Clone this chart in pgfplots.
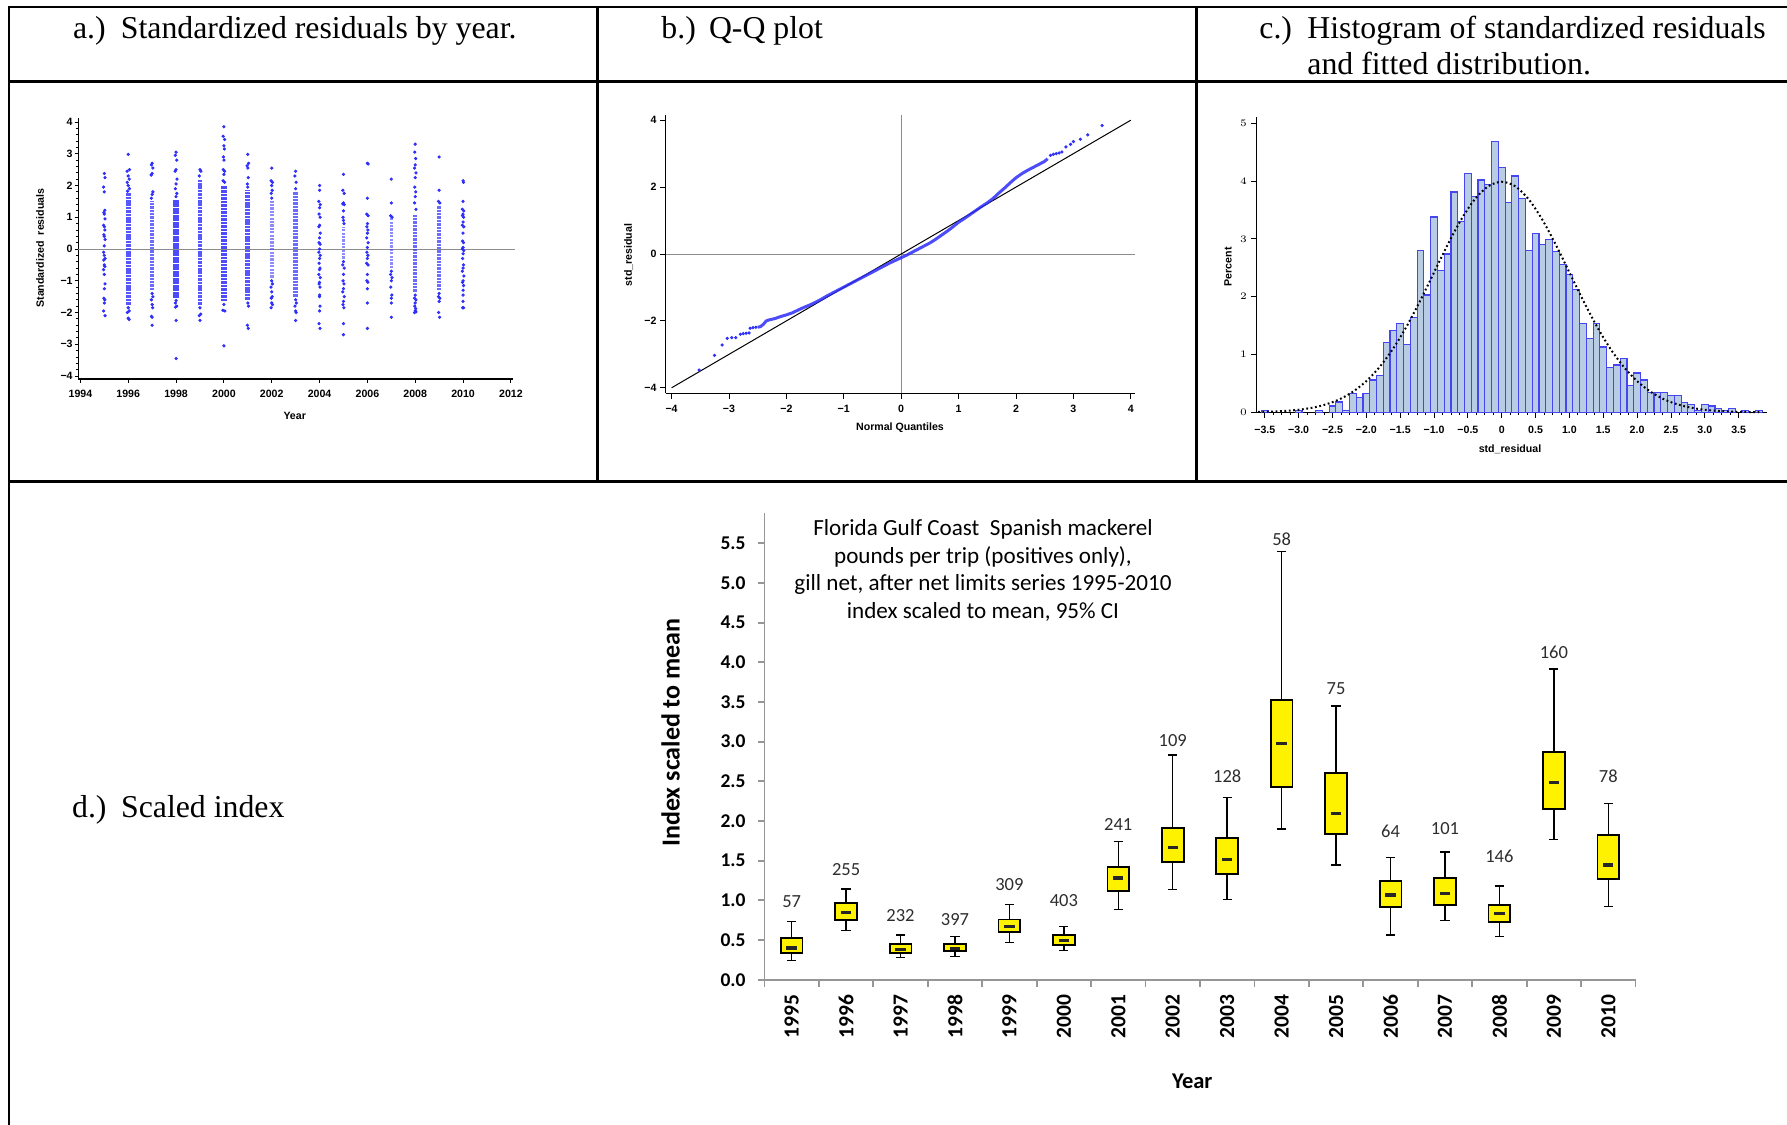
\documentclass[border=0pt]{standalone}
\usepackage{fontspec}
\setmainfont{Liberation Serif}
\newfontfamily\sasf{Liberation Sans}
\newfontfamily\calf{Carlito}
\usepackage{pgfplots}
\pgfplotsset{compat=1.18}
\usepgfplotslibrary{statistics}
\definecolor{sasblue}{RGB}{45,45,250}
\definecolor{histfill}{RGB}{184,204,228}
\definecolor{histline}{RGB}{70,70,240}
\definecolor{refgray}{RGB}{140,140,140}
\definecolor{xlgray}{RGB}{150,150,150}
\definecolor{lbl}{RGB}{45,45,45}
\definecolor{medc}{RGB}{38,38,38}
\newcommand\sasfont{\sasf\bfseries\fontsize{5.3bp}{6.3bp}\selectfont}
\newcommand\titlefont{\fontsize{15.9bp}{19bp}\selectfont}
\pgfplotsset{
  sas/.style={scale only axis, anchor=south west, axis lines*=left, tick align=outside,
    major tick length=2.2bp, minor tick length=1.2bp,
    tick style={black, line width=0.45bp}, axis line style={black, line width=0.55bp},
    tick label style={font=\sasfont, inner sep=0.8bp}, clip=false},
  sdot/.style={color=sasblue, only marks, mark=*, mark size=0.6bp, mark options={draw=none, fill=sasblue, fill opacity=0.9}},
}
\begin{document}
\begin{tikzpicture}
\useasboundingbox (0,0) rectangle (893.5bp,-562.5bp);
% table rules
\draw[line width=1.15bp] (4bp,-3.35bp) -- (893.5bp,-3.35bp);
\draw[line width=1.15bp] (4.6bp,-3.35bp) -- (4.6bp,-562.5bp);
\draw[line width=1.15bp] (4.6bp,-40.7bp) -- (893.5bp,-40.7bp);
\draw[line width=1.15bp] (4.6bp,-240.8bp) -- (893.5bp,-240.8bp);
\draw[line width=1.15bp] (298.7bp,-3.35bp) -- (298.7bp,-240.8bp);
\draw[line width=1.15bp] (598.3bp,-3.35bp) -- (598.3bp,-240.8bp);
% titles
\node[anchor=base west, inner sep=0, font=\titlefont] at (36.35bp,-19.2bp) {a.)};
\node[anchor=base west, inner sep=0, font=\titlefont] at (60.25bp,-19.2bp) {Standardized residuals by year.};
\node[anchor=base west, inner sep=0, font=\titlefont] at (330.5bp,-19.2bp) {b.)};
\node[anchor=base west, inner sep=0, font=\titlefont] at (354.3bp,-19.2bp) {Q-Q plot};
\node[anchor=base west, inner sep=0, font=\titlefont] at (629.5bp,-19.2bp) {c.)};
\node[anchor=base west, inner sep=0, font=\titlefont] at (653.5bp,-19.2bp) {Histogram of standardized residuals};
\node[anchor=base west, inner sep=0, font=\titlefont] at (653.5bp,-37.4bp) {and fitted distribution.};
\node[anchor=base west, inner sep=0, font=\titlefont] at (35.85bp,-408.6bp) {d.)};
\node[anchor=base west, inner sep=0, font=\titlefont] at (60.35bp,-408.6bp) {Scaled index};

% ---------- panel a ----------
\begin{axis}[sas, at={(39.2bp,-189.5bp)}, width=217.2bp, height=130.5bp,
  xmin=1993.916, xmax=2012.08, ymin=-4.094, ymax=4.126,
  major tick length=1.9bp,
  xtick={1994,1996,...,2012}, xticklabels={1994,1996,1998,2000,2002,2004,2006,2008,2010,2012},
  ytick={-4,...,4}, yticklabels={−4,−3,−2,−1,0,1,2,3,4},
  minor x tick num=1, minor y tick num=4,
  xticklabel style={yshift=-2.6bp}, unbounded coords=jump]
\addplot[refgray, line width=0.5bp] coordinates {(1993.916,0) (2012.16,0)};
\addplot[sasblue, opacity=0.85, line width=2.9bp, dash pattern=on 1.4bp off 0.35bp] coordinates {(1998,-1.55) (1998,1.55)};
\addplot[sasblue, opacity=0.85, line width=2.7bp, dash pattern=on 1.4bp off 0.35bp] coordinates {(2000,-1.65) (2000,2.0)};
\addplot[sasblue, opacity=0.8, line width=2.4bp, dash pattern=on 1.3bp off 0.4bp] coordinates {(1996,-1.75) (1996,1.75) (1996,nan) (1999,-1.75) (1999,2.2) (1999,nan) (2001,-1.6) (2001,1.85)};
\addplot[sasblue, opacity=0.7, line width=2.2bp, dash pattern=on 1.2bp off 0.5bp] coordinates {(1997,-1.3) (1997,1.5) (1997,nan) (2003,-1.5) (2003,1.8) (2003,nan) (2008,-1.35) (2008,1.1) (2008,nan) (2009,-1.3) (2009,1.35)};
\addplot[sasblue, opacity=0.55, line width=1.8bp, dash pattern=on 1.1bp off 0.6bp] coordinates {(2002,-0.9) (2002,1.5) (2002,nan) (2005,-0.3) (2005,0.7) (2005,nan) (2007,-0.6) (2007,1.0)};
\addplot[sdot] coordinates {
(1995,2.38)(1995.03,2.25)(1994.97,1.95)(1995,1.8)(1995.02,1.22)(1994.98,1.15)(1995,1.1)(1995.03,0.95)(1994.97,0.75)(1995,0.7)(1995.02,0.6)(1994.98,0.45)(1995,0.4)(1995.03,0.3)(1995,0.1)(1994.97,-0.1)(1995,-0.2)(1995.03,-0.3)(1994.98,-0.35)(1995,-0.5)(1995.02,-0.55)(1994.97,-0.65)(1995,-0.8)(1995.03,-1.1)(1995,-1.25)(1994.98,-1.55)(1995.02,-1.6)(1995,-1.7)(1994.97,-1.95)(1995.03,-2.1)
(1996,2.98)(1996.05,2.5)(1995.95,2.45)(1996,2.3)(1996.04,2.2)(1995.96,2.1)(1996,2.0)(1996.05,1.9)(1995.97,1.82)(1996,-1.85)(1996.04,-1.95)(1995.96,-2.0)(1996,-2.18)(1996.04,-2.22)
(1997,2.7)(1996.97,2.65)(1997.03,2.55)(1997,2.38)(1996.96,2.33)(1997.03,1.8)(1997,1.72)(1996.97,1.6)(1997,-1.4)(1997.03,-1.5)(1996.97,-1.6)(1997,-1.75)(1997.02,-1.85)(1997,-2.15)(1996.97,-2.12)(1997,-2.4)
(1998,3.05)(1997.97,2.95)(1998.03,2.8)(1998,2.5)(1997.96,2.45)(1998.04,2.2)(1998,2.05)(1997.97,1.9)(1998.03,1.75)(1998,1.65)(1998,-1.62)(1997.97,-1.7)(1998.03,-1.8)(1997.98,-1.83)(1998,-2.25)(1998,-3.45)
(1999,2.5)(1999.04,2.45)(1998.97,2.3)(1999,-1.85)(1999.03,-2.05)(1998.97,-2.1)(1999,-2.25)
(2000,3.85)(1999.97,3.55)(2000.03,3.45)(2000,3.25)(2000.02,3.15)(1999.98,2.9)(2000,2.8)(1999.97,2.5)(2000.03,2.45)(2000,2.35)(1999.97,2.15)(2000.03,2.1)(2000,-1.75)(1999.96,-1.93)(2000.04,-1.95)(2000,-3.05)
(2001,2.98)(2001.03,2.7)(2000.97,2.62)(2001,2.55)(2001.02,2.25)(2000.98,2.05)(2001,1.95)(2001,-1.7)(2001.03,-1.8)(2000.98,-2.4)(2001.02,-2.5)
(2002,2.55)(2001.97,2.15)(2002.03,2.1)(2002,2.0)(2002.02,1.85)(2001.98,1.75)(2002,1.6)(2002,-1.0)(2002.03,-1.1)(2001.97,-1.2)(2002,-1.35)(2002.02,-1.5)(2001.98,-1.55)(2002,-1.7)(2002.03,-1.75)(2001.97,-1.85)
(2003,2.45)(2002.97,2.3)(2003.02,2.1)(2003,1.9)(2003,-1.6)(2003.03,-1.7)(2002.97,-1.8)(2003,-1.95)(2003.02,-2.0)(2003,-2.25)
(2004,2.0)(2004,1.85)(2003.97,1.5)(2004.03,1.4)(2004,1.3)(2003.98,1.1)(2004.02,1.0)(2004,0.75)(2003.97,0.7)(2004.03,0.5)(2004,0.35)(2003.98,0.2)(2004.02,0.15)(2004,0.0)(2003.97,-0.1)(2004.03,-0.2)(2004,-0.3)(2003.98,-0.45)(2004.02,-0.6)(2004,-0.65)(2003.97,-0.8)(2004.03,-0.9)(2004,-1.05)(2003.98,-1.1)(2004.02,-1.2)(2004,-1.45)(2004,-1.5)(2004.02,-1.8)(2004,-1.95)(2003.98,-2.35)(2004.02,-2.5)
(2005,2.35)(2004.97,1.85)(2005.03,1.75)(2005,1.45)(2004.97,1.42)(2005.03,1.4)(2005,1.2)(2004.98,1.0)(2005,0.9)(2005.02,0.8)(2005,-0.4)(2004.97,-0.5)(2005.03,-0.6)(2005,-0.8)(2004.98,-1.0)(2005.02,-1.1)(2005,-1.25)(2004.97,-1.35)(2005.03,-1.5)(2005,-1.65)(2004.98,-1.75)(2005.02,-1.85)(2005,-2.35)(2005,-2.7)
(2006,2.7)(2006.03,2.68)(2006,1.6)(2005.97,1.1)(2006.03,1.05)(2006,0.8)(2005.98,0.7)(2006.02,0.6)(2006,0.5)(2005.97,0.35)(2006.03,0.2)(2006,0.05)(2005.98,-0.1)(2006.02,-0.2)(2006,-0.3)(2005.97,-0.45)(2006.03,-0.5)(2006,-0.8)(2005.98,-1.0)(2006.02,-1.05)(2006,-1.25)(2006,-1.7)(2006,-2.5)
(2007,2.2)(2007,1.45)(2006.97,1.05)(2007.03,1.0)(2007,-0.7)(2006.97,-0.8)(2007.03,-0.9)(2007,-1.0)(2006.98,-1.2)(2007.02,-1.45)(2007,-1.55)(2007,-1.7)(2007,-2.15)
(2008,3.3)(2007.98,3.05)(2008.02,2.85)(2008,2.65)(2007.97,2.55)(2008.03,2.4)(2008,2.25)(2007.98,1.95)(2008.02,1.8)(2008,1.65)(2007.97,1.45)(2008.03,1.25)(2008,-1.45)(2007.97,-1.55)(2008.03,-1.6)(2008,-1.7)(2007.98,-1.8)(2008.02,-1.88)(2008,-1.95)(2007.97,-2.0)(2008.03,-1.98)
(2009,2.9)(2009,1.85)(2008.97,1.5)(2009.03,1.45)(2009,-1.4)(2008.97,-1.5)(2009.03,-1.55)(2009,-1.65)(2008.98,-2.0)(2009.02,-2.15)
(2010,2.15)(2010.02,2.1)(2010,1.5)(2009.97,1.25)(2010.03,1.2)(2010,1.1)(2009.98,1.05)(2010.02,1.0)(2010,0.85)(2009.97,0.75)(2010.03,0.7)(2010,0.5)(2009.98,0.25)(2010.02,0.2)(2010,0.05)(2009.97,0.0)(2010.03,-0.05)(2010,-0.15)(2009.98,-0.3)(2010.02,-0.5)(2010,-0.6)(2009.97,-0.7)(2010.03,-0.85)(2010,-1.0)(2009.98,-1.05)(2010.02,-1.15)(2010,-1.3)(2010,-1.45)(2010,-1.65)(2009.98,-1.85)(2010.02,-1.85)
};
\end{axis}
\node[rotate=90, font=\sasfont] at (20.1bp,-124bp) {Standardized\ \ residuals};
\node[font=\sasfont] at (147.35bp,-207.7bp) {Year};

% ---------- panel b ----------
\begin{axis}[sas, at={(332.9bp,-196.65bp)}, width=234.8bp, height=139.15bp,
  xmin=-4.1, xmax=4.08, ymin=-4.164, ymax=4.155, major tick length=2.7bp,
  xtick={-4,...,4}, xticklabels={−4,−3,−2,−1,0,1,2,3,4},
  ytick={-4,-2,0,2,4}, yticklabels={−4,−2,0,2,4},
  xticklabel style={yshift=-2.2bp}, yticklabel style={xshift=-1bp}]
\addplot[refgray, line width=0.5bp] coordinates {(0,-4.164) (0,4.155)};
\addplot[refgray, line width=0.5bp] coordinates {(-4.1,0) (4.08,0)};
\addplot[black, line width=0.5bp] coordinates {(-4,-4) (4,4)};
\addplot[sasblue, opacity=0.85, line width=1.5bp] coordinates {
(-2.5,-2.19)(-2.45,-2.17)(-2.4,-2.1)(-2.35,-2.0)(-2.3,-1.97)(-2.2,-1.93)(-2.1,-1.87)(-2.0,-1.82)(-1.9,-1.76)(-1.8,-1.68)(-1.7,-1.6)(-1.6,-1.53)(-1.5,-1.45)(-1.4,-1.36)(-1.3,-1.26)(-1.2,-1.17)(-1.1,-1.08)(-1.0,-0.99)(-0.9,-0.9)(-0.8,-0.81)(-0.7,-0.72)(-0.6,-0.63)(-0.5,-0.54)(-0.4,-0.45)(-0.3,-0.36)(-0.2,-0.27)(-0.1,-0.19)(0,-0.11)(0.1,-0.03)(0.2,0.06)(0.3,0.15)(0.4,0.24)(0.5,0.33)(0.6,0.44)(0.7,0.56)(0.8,0.68)(0.9,0.81)(1.0,0.95)(1.1,1.06)(1.2,1.18)(1.3,1.3)(1.4,1.42)(1.5,1.53)(1.6,1.66)(1.7,1.82)(1.8,1.97)(1.9,2.13)(2.0,2.28)(2.1,2.4)(2.2,2.5)(2.3,2.59)(2.4,2.68)(2.5,2.77)(2.55,2.85)};
\addplot[sdot] coordinates {
(-3.52,-3.47)(-3.25,-3.03)(-3.12,-2.72)(-3.03,-2.52)(-2.95,-2.5)(-2.88,-2.5)(-2.8,-2.4)(-2.75,-2.38)(-2.7,-2.37)(-2.65,-2.36)(-2.63,-2.22)(-2.58,-2.2)(-2.53,-2.19)
(2.6,2.95)(2.65,2.98)(2.7,3.0)(2.75,3.02)(2.8,3.05)(2.87,3.2)(2.95,3.28)(3.0,3.36)(3.12,3.43)(3.25,3.56)(3.5,3.84)};
\end{axis}
\node[rotate=90, font=\sasfont] at (314.35bp,-127.5bp) {std\_residual};
\node[font=\sasfont] at (450bp,-213.85bp) {Normal Quantiles};

% ---------- panel c ----------
\begin{axis}[sas, at={(628.1bp,-206.15bp)}, width=255.4bp, height=147.5bp,
  xmin=-3.627, xmax=3.919, ymin=0, ymax=5.104, major tick length=2.7bp,
  xtick={-3.5,-3,...,3.5}, xticklabels={−3.5,−3.0,−2.5,−2.0,−1.5,−1.0,−0.5,0,0.5,1.0,1.5,2.0,2.5,3.0,3.5},
  minor x tick num=3,
  ytick={0,...,5}, xticklabel style={yshift=-3.2bp}, yticklabel style={xshift=-1bp}]
\addplot[ybar, bar width=0.1, bar shift=0pt, fill=histfill, draw=histline, line width=0.6bp] coordinates {
(-3.5,0.03)(-3.0,0.03)(-2.7,0.03)(-2.5,0.11)(-2.4,0.18)(-2.3,0.03)(-2.2,0.32)(-2.1,0.25)(-2.0,0.32)(-1.9,0.56)(-1.8,0.64)(-1.7,1.21)(-1.6,1.41)(-1.5,1.53)(-1.4,1.18)(-1.3,1.64)(-1.2,2.80)(-1.1,2.03)(-1.0,3.38)(-0.9,2.45)(-0.8,2.74)(-0.7,3.81)(-0.6,3.30)(-0.5,4.13)(-0.4,3.74)(-0.3,4.02)(-0.2,3.94)(-0.1,4.69)(0.0,4.23)(0.1,3.63)(0.2,4.09)(0.3,3.70)(0.4,2.80)(0.5,3.09)(0.6,2.91)(0.7,2.99)(0.8,2.78)(0.9,2.56)(1.0,2.39)(1.1,2.13)(1.2,1.53)(1.3,1.28)(1.4,1.53)(1.5,1.13)(1.6,0.78)(1.7,0.82)(1.8,0.93)(1.9,0.46)(2.0,0.68)(2.1,0.56)(2.2,0.34)(2.3,0.34)(2.4,0.34)(2.5,0.29)(2.6,0.29)(2.7,0.17)(2.8,0.13)(2.9,0.03)(3.0,0.14)(3.1,0.11)(3.2,0.06)(3.3,0.03)(3.4,0.06)(3.6,0.03)(3.8,0.03)};
\addplot[black, smooth, line width=1bp, dash pattern=on 0.9bp off 1.3bp] coordinates {
(-3.6,0.006)(-3.4,0.012)(-3.2,0.024)(-3.0,0.044)(-2.8,0.079)(-2.6,0.136)(-2.4,0.224)(-2.2,0.355)(-2.0,0.540)(-1.8,0.790)(-1.6,1.109)(-1.4,1.497)(-1.2,1.942)(-1.0,2.420)(-0.8,2.897)(-0.6,3.332)(-0.4,3.683)(-0.2,3.910)(0,3.989)(0.2,3.910)(0.4,3.683)(0.6,3.332)(0.8,2.897)(1.0,2.420)(1.2,1.942)(1.4,1.497)(1.6,1.109)(1.8,0.790)(2.0,0.540)(2.2,0.355)(2.4,0.224)(2.6,0.136)(2.8,0.079)(3.0,0.044)(3.2,0.024)(3.4,0.012)(3.6,0.006)(3.85,0.003)};
\end{axis}
\node[rotate=90, font=\sasfont] at (614bp,-133.35bp) {Percent};
\node[font=\sasfont] at (755bp,-224.65bp) {std\_residual};

% ---------- panel d ----------
\begin{axis}[scale only axis, anchor=south west, at={(382.2bp,-489.85bp)}, width=435.55bp, height=233.5bp,
  xmin=-0.5, xmax=15.5, ymin=0, ymax=5.885, clip=false,
  axis lines*=left, axis line style={xlgray, line width=0.9bp},
  tick align=outside, major tick length=3.4bp, tick style={xlgray, line width=0.9bp},
  xtick={-0.5,0.5,...,15.5}, xticklabels={,,,,,,,,,,,,,,,,},
  extra x ticks={0,...,15},
  extra x tick labels={1995,1996,1997,1998,1999,2000,2001,2002,2003,2004,2005,2006,2007,2008,2009,2010},
  extra x tick style={tick style={draw=none}},
  xticklabel style={yshift=-2bp, rotate=90, anchor=east, font=\calf\bfseries\fontsize{10.75bp}{12bp}\selectfont, inner sep=2bp},
  ytick={0,0.5,...,5.5}, yticklabels={0.0,0.5,1.0,1.5,2.0,2.5,3.0,3.5,4.0,4.5,5.0,5.5},
  yticklabel style={font=\calf\bfseries\fontsize{9.75bp}{11bp}\selectfont, xshift=-2.5bp},
  boxplot/draw direction=y,
  boxplot/box extend=0.4, boxplot/whisker extend=0.17,
  boxplot/every box/.style={draw=black, fill=yellow, line width=0.9bp},
  boxplot/every whisker/.style={draw=black, line width=0.7bp},
  boxplot/every median/.style={draw=none}]
\addplot[black, boxplot prepared={draw position=0, lower whisker=0.24, lower quartile=0.341, median=0.399, upper quartile=0.529, upper whisker=0.731}] coordinates {};
\addplot[black, boxplot prepared={draw position=1, lower whisker=0.618, lower quartile=0.752, median=0.849, upper quartile=0.962, upper whisker=1.143}] coordinates {};
\addplot[black, boxplot prepared={draw position=2, lower whisker=0.278, lower quartile=0.341, median=0.378, upper quartile=0.454, upper whisker=0.563}] coordinates {};
\addplot[black, boxplot prepared={draw position=3, lower whisker=0.290, lower quartile=0.357, median=0.395, upper quartile=0.454, upper whisker=0.542}] coordinates {};
\addplot[black, boxplot prepared={draw position=4, lower whisker=0.471, lower quartile=0.597, median=0.669, upper quartile=0.760, upper whisker=0.950}] coordinates {};
\addplot[black, boxplot prepared={draw position=5, lower whisker=0.366, lower quartile=0.441, median=0.492, upper quartile=0.559, upper whisker=0.673}] coordinates {};
\addplot[black, boxplot prepared={draw position=6, lower whisker=0.887, lower quartile=1.118, median=1.282, upper quartile=1.424, upper whisker=1.739}] coordinates {};
\addplot[black, boxplot prepared={draw position=7, lower whisker=1.139, lower quartile=1.479, median=1.664, upper quartile=1.908, upper whisker=2.832}] coordinates {};
\addplot[black, boxplot prepared={draw position=8, lower whisker=1.013, lower quartile=1.336, median=1.517, upper quartile=1.782, upper whisker=2.294}] coordinates {};
\addplot[black, boxplot prepared={draw position=9, lower whisker=1.899, lower quartile=2.425, median=2.979, upper quartile=3.521, upper whisker=5.394}] coordinates {};
\addplot[black, boxplot prepared={draw position=10, lower whisker=1.445, lower quartile=1.832, median=2.097, upper quartile=2.601, upper whisker=3.449}] coordinates {};
\addplot[black, boxplot prepared={draw position=11, lower whisker=0.563, lower quartile=0.916, median=1.067, upper quartile=1.247, upper whisker=1.538}] coordinates {};
\addplot[black, boxplot prepared={draw position=12, lower whisker=0.744, lower quartile=0.941, median=1.088, upper quartile=1.285, upper whisker=1.609}] coordinates {};
\addplot[black, boxplot prepared={draw position=13, lower whisker=0.542, lower quartile=0.727, median=0.836, upper quartile=0.941, upper whisker=1.180}] coordinates {};
\addplot[black, boxplot prepared={draw position=14, lower whisker=1.769, lower quartile=2.147, median=2.487, upper quartile=2.874, upper whisker=3.916}] coordinates {};
\addplot[black, boxplot prepared={draw position=15, lower whisker=0.924, lower quartile=1.265, median=1.445, upper quartile=1.824, upper whisker=2.223}] coordinates {};
\addplot[only marks, mark=-, mark size=2.6bp, mark options={line width=1.6bp, draw=medc}] coordinates {
(0,0.399)(1,0.849)(2,0.378)(3,0.395)(4,0.669)(5,0.492)(6,1.282)(7,1.664)(8,1.517)(9,2.979)(10,2.097)(11,1.067)(12,1.088)(13,0.836)(14,2.487)(15,1.445)};
\addplot[only marks, mark=none, point meta=explicit symbolic, nodes near coords,
  nodes near coords style={anchor=center, inner sep=0, text=lbl, font=\calf\fontsize{9.25bp}{11bp}\selectfont}] coordinates {
(0,0.983)[57] (1,1.39)[255] (2,0.807)[232] (3,0.752)[397] (4,1.202)[309] (5,0.992)[403] (6,1.95)[241] (7,3.02)[109] (8,2.567)[128] (9,5.55)[58] (10,3.672)[75] (11,1.865)[64] (12,1.899)[101] (13,1.559)[146] (14,4.121)[160] (15,2.559)[78]};
\end{axis}
\begin{scope}[every node/.style={anchor=base, inner sep=0, font=\calf\fontsize{11.55bp}{14bp}\selectfont}]
\node at (491.5bp,-267.5bp) {Florida Gulf Coast\ \ Spanish mackerel};
\node at (491.5bp,-281.65bp) {pounds per trip (positives only),};
\node at (491.5bp,-295bp) {gill net, after net limits series 1995-2010};
\node at (491.5bp,-309.15bp) {index scaled to mean, 95\% CI};
\end{scope}
\node[rotate=90, font=\calf\bfseries\fontsize{13bp}{15bp}\selectfont] at (335.3bp,-366.25bp) {Index scaled to mean};
\node[font=\calf\bfseries\fontsize{11.25bp}{13bp}\selectfont] at (596.15bp,-540.5bp) {Year};
\end{tikzpicture}
\end{document}
